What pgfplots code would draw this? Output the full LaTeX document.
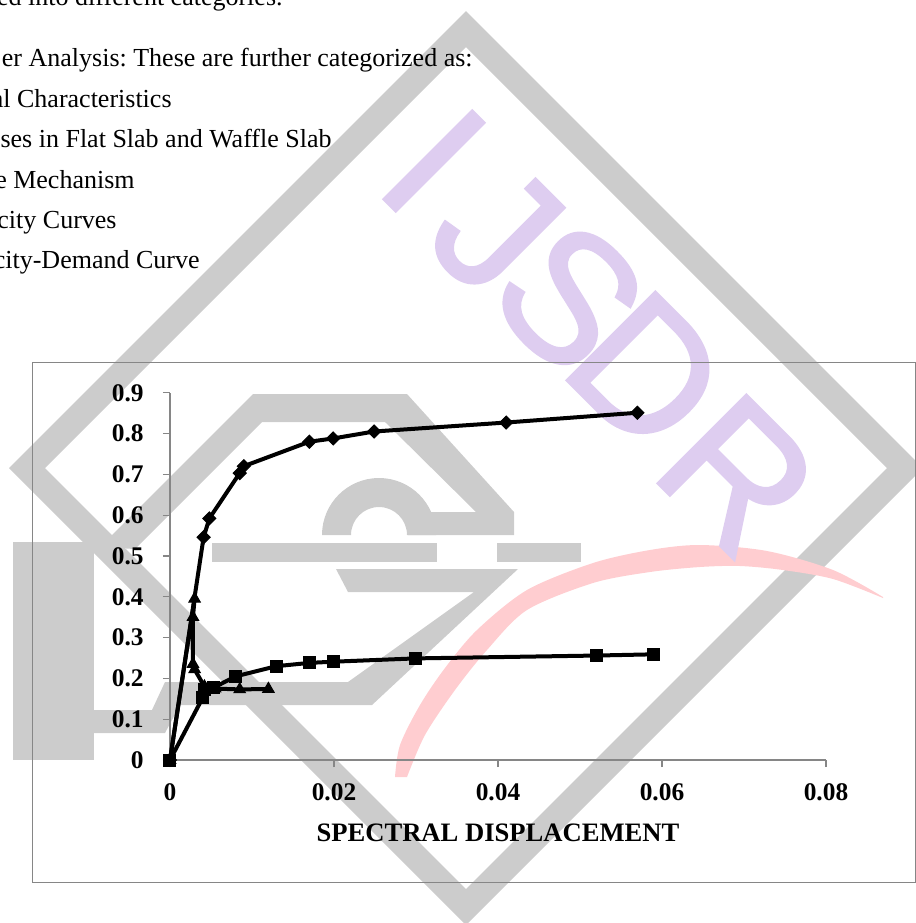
\documentclass[border=0pt]{standalone}
\usepackage{pgfplots}
\pgfplotsset{compat=1.18}
\usepackage{fontspec}
\setmainfont{Liberation Serif}
\newfontfamily\wmfont[FakeBold=1.5]{Liberation Sans}
\definecolor{wmgray}{RGB}{204,204,204}
\definecolor{wmlav}{RGB}{222,205,240}
\definecolor{wmpink}{RGB}{255,205,208}
\definecolor{axgray}{RGB}{134,134,134}
\frenchspacing
\begin{document}
\begin{tikzpicture}
\useasboundingbox (0,0) rectangle (458pt,-461.5pt);
\clip (0,0) rectangle (458pt,-461.5pt);
\begin{scope}[x=0.5pt,y=-0.5pt]
% --- watermark ---
\fill[wmgray,even odd rule] (466,11)--(923,468)--(466,925)--(9,468)--cycle
  (466,47)--(887,468)--(466,889)--(45,468)--cycle;
\fill[wmgray] (12.6,541.7) rectangle (93.7,760);
\fill[wmgray] (100,547)--(253,394)--(407,394)--(514,512)--(514,535)--(408,535)--(408,512)
  --(476,512)--(385,422)--(262,422)--(135,549)--cycle;
\fill[wmgray] (322,535) arc[start angle=180,end angle=360,radius=57] -- (407,535)
  arc[start angle=360,end angle=180,radius=28] -- cycle;
\fill[wmgray] (212,543) rectangle (437,562);
\fill[wmgray] (497,543) rectangle (581,562);
\fill[wmgray] (336,569)--(518,569)--(372,705)--(180,705)--(165,733)--(94,733)--(94,710)
  --(152,710)--(165,682)--(348,682)--(474,592)--(348,592)--cycle;
\fill[wmpink] plot[smooth] coordinates {(395,777) (400,745) (420,705) (445,668) (477,630) (527,590) (593,563) (650,550) (700,545) (767,551) (833,570) (883,597)}
  -- plot[smooth] coordinates {(883,598) (833,579) (783,570) (740,566) (700,567) (650,572) (593,583) (527,610) (487,650) (455,690) (425,735) (407,777)} -- cycle;
\begin{scope}[font=\wmfont\fontsize{91}{91}\selectfont, wmlav]
\node[rotate=-45,inner sep=0] at (434,161) {I};
\node[rotate=-45,inner sep=0] at (497,230) {J};
\node[rotate=-45,inner sep=0] at (570,297) {S};
\node[rotate=-45,inner sep=0] at (647,372) {D};
\node[rotate=-45,inner sep=0] at (738,475) {R};
\end{scope}
% --- page text ---
\begin{scope}[font=\fontsize{13}{15}\selectfont]
\node[anchor=base east,inner sep=0] at (283,5) {ed into different categories.};
\node[anchor=base east,inner sep=0] at (473,66.7) {er Analysis: These are further categorized as:};
\node[anchor=base east,inner sep=0] at (172,107) {al Characteristics};
\node[anchor=base east,inner sep=0] at (332,147.7) {ses in Flat Slab and Waffle Slab};
\node[anchor=base east,inner sep=0] at (135,188.7) {e Mechanism};
\node[anchor=base east,inner sep=0] at (117,228) {city Curves};
\node[anchor=base east,inner sep=0] at (200,268) {city-Demand Curve};
\end{scope}
% --- chart frame ---
\draw[axgray,line width=0.5pt] (32,362) rectangle (915.5,882);
\end{scope}
\begin{axis}[
  at={(85pt,-380pt)}, anchor=south west,
  scale only axis, width=328pt, height=183.65pt,
  xmin=0, xmax=0.08, ymin=0, ymax=0.9,
  axis x line=bottom, axis y line=left,
  axis line style={-,draw=axgray,line width=0.6pt},
  tick align=outside, major tick length=3.5pt,
  tick style={axgray,line width=0.6pt},
  scaled x ticks=false, scaled y ticks=false,
  xtick={0,0.02,0.04,0.06,0.08},
  xticklabels={0,0.02,0.04,0.06,0.08},
  ytick={0,0.1,0.2,0.3,0.4,0.5,0.6,0.7,0.8,0.9},
  yticklabels={0,0.1,0.2,0.3,0.4,0.5,0.6,0.7,0.8,0.9},
  tick label style={font=\fontsize{12.7}{14}\selectfont\bfseries, black, inner sep=0pt},
  xticklabel style={anchor=base, yshift=-16.5pt},
  yticklabel style={anchor=east, xshift=-9.5pt},
  xlabel={SPECTRAL DISPLACEMENT},
  xlabel style={at={(axis description cs:0.5,0)}, anchor=base, yshift=-40.5pt,
    font=\fontsize{13.3}{15}\selectfont\bfseries, inner sep=0pt},
  clip=false,
]
\addplot[black, line width=2pt, mark=square*, mark size=2.3pt,
  mark options={solid, rotate=45, fill=black, line width=0.5pt}] coordinates {
  (0,0) (0.0041,0.546) (0.0048,0.592) (0.0085,0.703) (0.009,0.72) (0.017,0.78)
  (0.0199,0.788) (0.0249,0.805) (0.041,0.827) (0.057,0.851)};
\addplot[black, line width=2pt, mark=triangle*, mark size=3.3pt,
  mark options={solid, fill=black, line width=0.5pt}] coordinates {
  (0,0) (0.003,0.395) (0.0028,0.35) (0.0028,0.235) (0.003,0.222) (0.0042,0.18)
  (0.0055,0.175) (0.0085,0.173) (0.012,0.174)};
\addplot[black, line width=2pt, mark=square*, mark size=3pt,
  mark options={solid, fill=black, line width=0.5pt}] coordinates {
  (0,0) (0.004,0.153) (0.0042,0.172) (0.0053,0.177) (0.008,0.205) (0.013,0.23)
  (0.017,0.238) (0.02,0.241) (0.03,0.249) (0.052,0.256) (0.059,0.259)};
\end{axis}
\end{tikzpicture}
\end{document}
